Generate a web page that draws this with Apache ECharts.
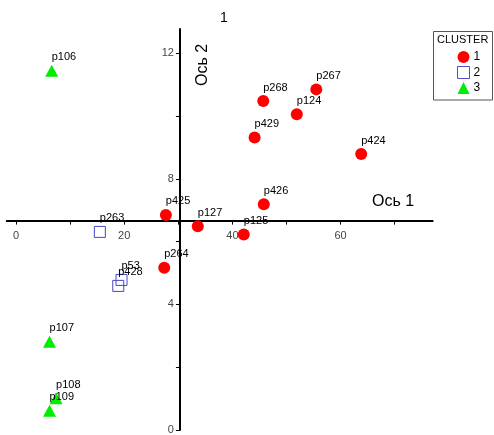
<!DOCTYPE html>
<html>
<head>
<meta charset="utf-8">
<script src="https://cdn.jsdelivr.net/npm/echarts@6/dist/echarts.min.js"></script>
<style>
  html, body { margin: 0; padding: 0; background: #fff; }
  #chart { width: 494px; height: 435px; }
</style>
</head>
<body>
<div id="chart"></div>
<script>
// Cluster 1 points
const cluster1Names = ['p425', 'p127', 'p125', 'p264', 'p267', 'p268', 'p124', 'p429', 'p424', 'p426'];
const cluster1X = [27.7, 33.6, 42.1, 27.4, 55.5, 45.7, 51.9, 44.1, 63.8, 45.8];
const cluster1Y = [6.85, 6.49, 6.23, 5.17, 10.85, 10.48, 10.06, 9.32, 8.79, 7.19];

// Cluster 2 points
const cluster2Names = ['p263', 'p53', 'p428'];
const cluster2X = [15.5, 19.5, 18.9];
const cluster2Y = [6.31, 4.78, 4.59];

// Cluster 3 points
const cluster3Names = ['p106', 'p107', 'p108', 'p109'];
const cluster3X = [6.6, 6.2, 7.4, 6.2];
const cluster3Y = [11.44, 2.81, 1.01, 0.61];

// Axis extents, crossing point and tick values
const xRange = [-1.7, 77];
const yRange = [0, 12.77];
const crossAt = [30.3, 6.67];
const xTicks = [0, 10, 20, 30, 40, 50, 60, 70];
const xTickLabels = [0, 20, 40, 60];
const yTicks = [0, 2, 4, 6, 8, 10, 12];
const yTickLabels = [0, 4, 8, 12];

// Plot area in pixels
const W = 494, H = 435;
const grid = { left: 6.8, right: 61.4, top: 29.1, bottom: 5 };
const gridW = W - grid.left - grid.right;
const gridH = H - grid.top - grid.bottom;

// Move each axis from the plot edge to the crossing point
const xAxisOffset = -(crossAt[1] - yRange[0]) / (yRange[1] - yRange[0]) * gridH;
const yAxisOffset = -(crossAt[0] - xRange[0]) / (xRange[1] - xRange[0]) * gridW;

function points(names, xs, ys) {
  return names.map((n, i) => ({ name: n, value: [xs[i], ys[i]] }));
}

const FONT = 'Liberation Sans, Arial, sans-serif';
const pointLabel = {
  show: true,
  position: 'top',
  align: 'left',
  distance: 2,
  formatter: p => p.name,
  color: '#000',
  fontSize: 11,
  fontFamily: FONT
};

const chart = echarts.init(document.getElementById('chart'), null, { renderer: 'canvas' });

chart.setOption({
  backgroundColor: '#fff',
  animation: false,
  title: {
    text: '1',
    left: 215,
    top: 6,
    textStyle: { fontSize: 14, fontWeight: 'normal', color: '#000', fontFamily: FONT }
  },
  grid: {
    left: grid.left, right: grid.right, top: grid.top, bottom: grid.bottom,
    containLabel: false,
    outerBoundsMode: 'none'
  },
  legend: {
    orient: 'vertical',
    left: 457,
    top: 51,
    padding: 0,
    itemWidth: 12,
    itemHeight: 12,
    itemGap: 3,
    selectedMode: false,
    textStyle: { fontSize: 12, color: '#000', fontFamily: FONT, padding: [0, 0, 0, -1] },
    data: [
      { name: '1' },
      { name: '2', itemStyle: { borderWidth: 1, borderColor: '#5050c8' } },
      { name: '3' }
    ]
  },
  graphic: [
    {
      type: 'rect',
      shape: { x: 433.5, y: 31.5, width: 59, height: 68.5 },
      style: { fill: 'none', stroke: '#555', lineWidth: 1 },
      z: 1
    },
    {
      type: 'text',
      x: 437, y: 40,
      style: { text: 'CLUSTER', fontSize: 11, fontFamily: FONT, fill: '#000', verticalAlign: 'middle' }
    },
    {
      type: 'text',
      x: 393, y: 202,
      style: { text: 'Ось 1', fontSize: 16, fontFamily: FONT, fill: '#000', align: 'center', verticalAlign: 'middle' }
    },
    {
      type: 'text',
      x: 203, y: 65,
      rotation: Math.PI / 2,
      style: { text: 'Ось 2', fontSize: 16, fontFamily: FONT, fill: '#000', align: 'center', verticalAlign: 'middle' }
    }
  ],
  xAxis: {
    type: 'value',
    min: xRange[0],
    max: xRange[1],
    position: 'bottom',
    offset: xAxisOffset,
    splitLine: { show: false },
    axisLine: { show: true, onZero: false, lineStyle: { color: '#000', width: 2 } },
    axisTick: { show: true, length: 4, customValues: xTicks, lineStyle: { color: '#000', width: 1 } },
    axisLabel: {
      customValues: xTickLabels,
      margin: 10,
      color: '#444',
      fontSize: 11,
      fontFamily: FONT
    }
  },
  yAxis: {
    type: 'value',
    min: yRange[0],
    max: yRange[1],
    position: 'left',
    offset: yAxisOffset,
    splitLine: { show: false },
    axisLine: { show: true, onZero: false, lineStyle: { color: '#000', width: 2 } },
    axisTick: { show: true, length: 4, customValues: yTicks, lineStyle: { color: '#000', width: 1 } },
    axisLabel: {
      customValues: yTickLabels,
      margin: 6,
      color: '#444',
      fontSize: 11,
      fontFamily: FONT
    }
  },
  series: [
    {
      name: '1',
      type: 'scatter',
      symbol: 'circle',
      symbolSize: 12,
      itemStyle: { color: '#ff0000', opacity: 1 },
      label: pointLabel,
      data: points(cluster1Names, cluster1X, cluster1Y),
      z: 3
    },
    {
      name: '2',
      type: 'scatter',
      symbol: 'rect',
      symbolSize: 11,
      itemStyle: { color: 'rgba(255,255,255,0)', borderColor: '#4646c4', borderWidth: 1, opacity: 1 },
      label: pointLabel,
      data: points(cluster2Names, cluster2X, cluster2Y),
      z: 3
    },
    {
      name: '3',
      type: 'scatter',
      symbol: 'triangle',
      symbolSize: [13, 12],
      itemStyle: { color: '#00ee00', opacity: 1 },
      label: pointLabel,
      data: points(cluster3Names, cluster3X, cluster3Y),
      z: 3
    }
  ]
});
</script>
</body>
</html>
